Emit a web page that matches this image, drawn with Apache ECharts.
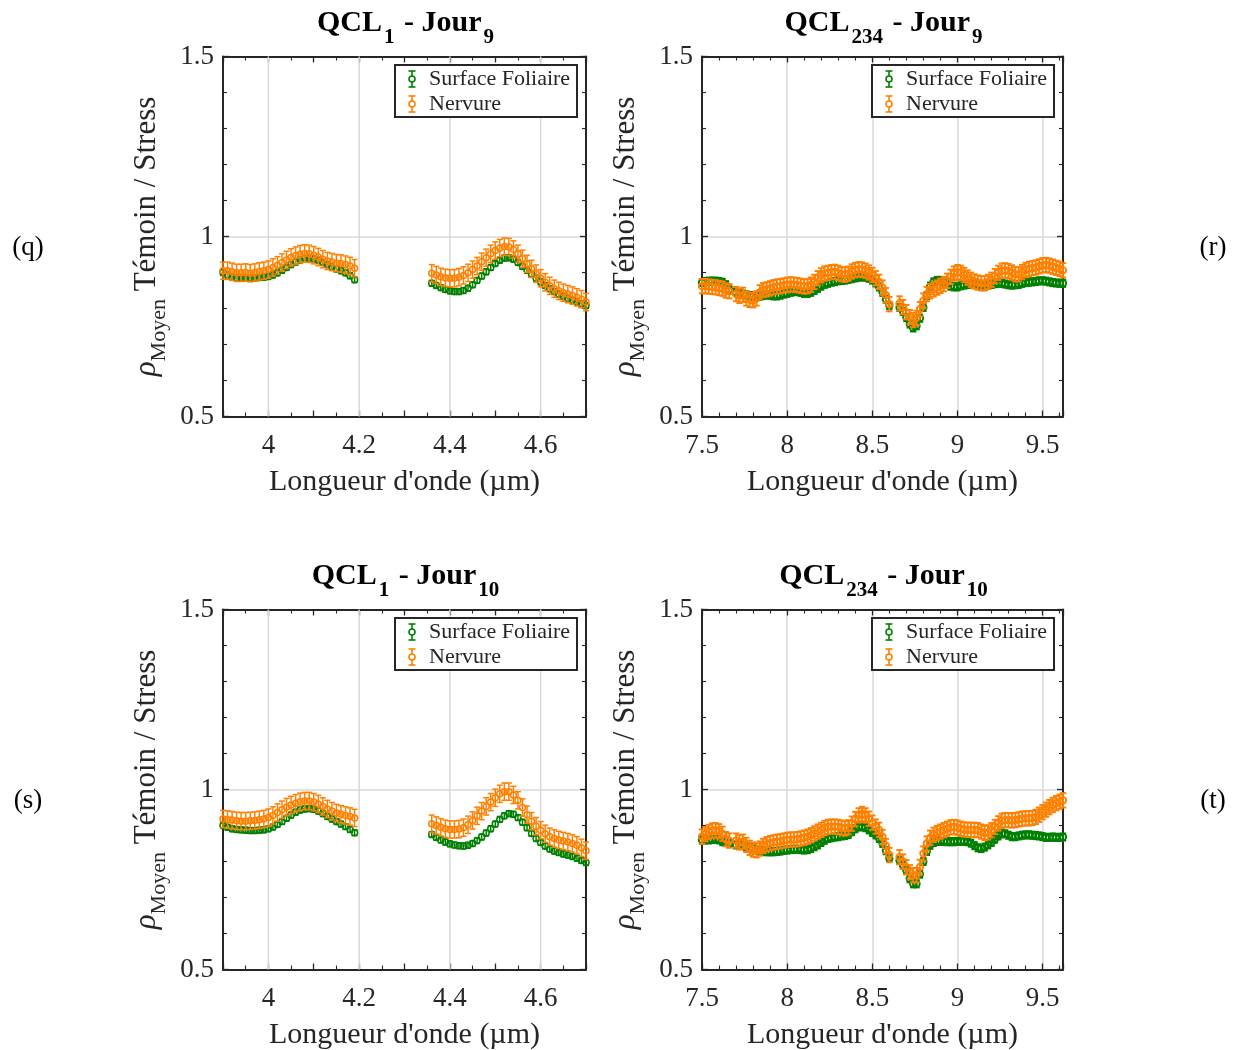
<!DOCTYPE html>
<html>
<head>
<meta charset="utf-8">
<script src="https://cdn.jsdelivr.net/npm/echarts@6/dist/echarts.min.js"></script>
<style>html,body{margin:0;padding:0;background:#fff;}#c{width:1240px;height:1050px;}</style>
</head>
<body>
<div id="c"></div>
<script>
// ---------- DATA ----------
function range(a, b, step) { const out = []; const n = Math.round((b - a) / step); for (let i = 0; i <= n; i++) out.push(+(a + i * step).toFixed(2)); return out; }

// wavelength sampling (µm)
const wlLeft = range(3.90, 4.19, 0.01).concat(range(4.36, 4.70, 0.01));
const wlRight = range(7.50, 7.66, 0.02).concat(range(7.70, 7.74, 0.02), range(7.76, 8.60, 0.02), range(8.66, 9.62, 0.02));

// (q) QCL1 - Jour9
const qSurface = [0.900,0.893,0.887,0.885,0.884,0.884,0.884,0.885,0.886,0.887,0.889,0.893,0.899,0.906,0.914,0.922,0.929,0.935,0.939,0.940,0.938,0.934,0.928,0.922,0.916,0.910,0.905,0.899,0.891,0.880,
  0.870,0.864,0.858,0.853,0.849,0.847,0.847,0.850,0.856,0.866,0.878,0.890,0.902,0.914,0.925,0.934,0.940,0.941,0.937,0.928,0.917,0.906,0.895,0.884,0.874,0.864,0.855,0.847,0.840,0.834,0.828,0.823,0.818,0.813,0.808];
const qNervure = [0.905,0.905,0.902,0.899,0.899,0.900,0.898,0.900,0.903,0.905,0.908,0.914,0.920,0.928,0.935,0.942,0.947,0.951,0.953,0.952,0.948,0.943,0.937,0.932,0.929,0.926,0.925,0.922,0.918,0.912,
  0.898,0.893,0.888,0.885,0.884,0.884,0.887,0.892,0.899,0.908,0.918,0.930,0.941,0.952,0.961,0.968,0.972,0.971,0.964,0.952,0.938,0.924,0.910,0.897,0.884,0.873,0.863,0.855,0.849,0.844,0.840,0.836,0.831,0.826,0.818];

// (s) QCL1 - Jour10
const sSurface = [0.900,0.895,0.891,0.889,0.888,0.887,0.886,0.886,0.887,0.888,0.891,0.896,0.903,0.911,0.920,0.929,0.937,0.943,0.946,0.947,0.945,0.940,0.933,0.925,0.918,0.911,0.904,0.897,0.889,0.880,
  0.875,0.867,0.860,0.854,0.849,0.846,0.844,0.843,0.845,0.850,0.858,0.868,0.879,0.891,0.904,0.917,0.927,0.933,0.931,0.922,0.909,0.894,0.878,0.864,0.853,0.843,0.835,0.829,0.825,0.821,0.818,0.814,0.809,0.803,0.797];
const sNervure = [0.918,0.917,0.915,0.913,0.912,0.912,0.913,0.914,0.916,0.918,0.922,0.928,0.936,0.944,0.951,0.957,0.962,0.966,0.968,0.968,0.965,0.960,0.953,0.946,0.940,0.935,0.931,0.928,0.925,0.921,
  0.905,0.900,0.895,0.891,0.889,0.889,0.890,0.894,0.902,0.914,0.927,0.940,0.953,0.965,0.977,0.988,0.994,0.994,0.985,0.970,0.950,0.930,0.912,0.898,0.887,0.877,0.869,0.864,0.860,0.857,0.854,0.850,0.845,0.838,0.830];

// (r) QCL234 - Jour9
const rSurface = [0.872,0.875,0.876,0.876,0.876,0.875,0.873,0.866,0.852,
  0.845,0.842,0.840,
  0.838,0.836,0.834,0.833,0.834,0.836,0.838,0.837,0.835,0.835,0.837,0.840,0.842,0.845,0.847,0.847,0.845,0.842,0.842,0.845,0.850,0.856,0.862,0.867,0.870,0.873,0.875,0.877,0.878,0.879,0.881,0.883,0.885,0.887,0.888,0.887,0.884,0.879,0.871,0.860,0.845,0.826,0.808,
  0.803,0.792,0.775,0.757,0.746,0.752,0.773,0.803,0.836,0.862,0.874,0.878,0.878,0.875,0.868,0.862,0.860,0.860,0.863,0.865,0.867,0.869,0.870,0.868,0.866,0.865,0.865,0.867,0.869,0.870,0.870,0.868,0.866,0.865,0.866,0.867,0.870,0.872,0.873,0.874,0.875,0.877,0.877,0.876,0.874,0.872,0.871,0.870,0.870];
const rNervure = [0.862,0.862,0.861,0.860,0.859,0.857,0.855,0.850,0.848,
  0.840,0.835,0.838,
  0.828,0.824,0.823,0.828,0.845,0.851,0.853,0.856,0.859,0.861,0.862,0.864,0.866,0.867,0.866,0.865,0.863,0.861,0.862,0.866,0.874,0.884,0.892,0.897,0.899,0.901,0.902,0.899,0.895,0.894,0.897,0.903,0.907,0.909,0.908,0.905,0.900,0.893,0.884,0.874,0.858,0.837,0.812,
  0.814,0.804,0.790,0.776,0.768,0.774,0.798,0.822,0.840,0.848,0.853,0.858,0.863,0.868,0.877,0.888,0.897,0.901,0.899,0.893,0.886,0.880,0.875,0.872,0.870,0.870,0.874,0.880,0.890,0.899,0.905,0.906,0.904,0.900,0.895,0.895,0.901,0.907,0.910,0.912,0.914,0.917,0.920,0.921,0.919,0.916,0.913,0.910,0.906];

// (t) QCL234 - Jour10
const tSurface = [0.860,0.860,0.860,0.861,0.862,0.860,0.855,0.853,0.850,
  0.846,0.846,0.845,
  0.841,0.838,0.835,0.832,0.830,0.828,0.827,0.827,0.827,0.828,0.829,0.831,0.832,0.833,0.834,0.834,0.833,0.832,0.833,0.836,0.841,0.846,0.853,0.859,0.864,0.866,0.868,0.869,0.871,0.872,0.875,0.883,0.891,0.896,0.897,0.894,0.888,0.881,0.874,0.864,0.850,0.830,0.809,
  0.803,0.790,0.775,0.752,0.738,0.738,0.765,0.800,0.828,0.845,0.853,0.856,0.856,0.856,0.855,0.855,0.855,0.856,0.856,0.856,0.855,0.851,0.844,0.838,0.836,0.840,0.846,0.853,0.862,0.871,0.877,0.877,0.873,0.869,0.869,0.871,0.873,0.874,0.874,0.873,0.872,0.871,0.869,0.867,0.867,0.868,0.867,0.867,0.868];
const tNervure = [0.869,0.876,0.882,0.886,0.887,0.884,0.877,0.862,0.858,
  0.858,0.853,0.855,
  0.846,0.838,0.833,0.831,0.836,0.843,0.848,0.851,0.853,0.855,0.856,0.858,0.860,0.861,0.861,0.862,0.864,0.866,0.869,0.873,0.878,0.883,0.888,0.893,0.896,0.897,0.897,0.896,0.894,0.892,0.895,0.905,0.918,0.928,0.932,0.928,0.919,0.908,0.897,0.888,0.868,0.843,0.818,
  0.812,0.800,0.784,0.770,0.762,0.762,0.785,0.822,0.850,0.866,0.874,0.879,0.883,0.887,0.891,0.895,0.896,0.894,0.891,0.889,0.888,0.888,0.888,0.887,0.883,0.879,0.881,0.887,0.896,0.906,0.913,0.915,0.915,0.914,0.915,0.917,0.919,0.920,0.920,0.921,0.924,0.930,0.937,0.944,0.951,0.957,0.962,0.966,0.970];

// error-bar half widths (read as typical bar size)
const errSurfaceLeft = 0.008, errNervureLeft = 0.024;
const errSurfaceRight = 0.010, errNervureRight = 0.020;

// axis ticks
const xTicksLeft = [4, 4.2, 4.4, 4.6];
const seriesNames = ['Surface Foliaire', 'Nervure'];
const colors = ['#008000', '#FF8000'];

// ---------- LAYOUT ----------
const FONT = '"Liberation Serif", "Times New Roman", serif';
const AX = '#262626';
const panels = [
  { tag: '(q)', qcl: '1',   jour: '9',  wl: wlLeft,  surf: qSurface, nerv: qNervure, left: true,  grid: { left: 223, top: 56.5, width: 363, height: 360 } },
  { tag: '(r)', qcl: '234', jour: '9',  wl: wlRight, surf: rSurface, nerv: rNervure, left: false, grid: { left: 702, top: 56.5, width: 361, height: 360 } },
  { tag: '(s)', qcl: '1',   jour: '10', wl: wlLeft,  surf: sSurface, nerv: sNervure, left: true,  grid: { left: 223, top: 609.5, width: 363, height: 360 } },
  { tag: '(t)', qcl: '234', jour: '10', wl: wlRight, surf: tSurface, nerv: tNervure, left: false, grid: { left: 702, top: 609.5, width: 361, height: 360 } }
];

function makeEB(r, lw, w) {
  return function (params, api) {
    const x = api.value(0), y = api.value(1), e = api.value(2);
    const c = api.coord([x, y]), t = api.coord([x, y + e]), b = api.coord([x, y - e]);
    const col = api.visual('color');
    return { type: 'group', children: [
      { type: 'line', shape: { x1: c[0], y1: t[1], x2: c[0], y2: b[1] }, style: { stroke: col, lineWidth: lw } },
      { type: 'line', shape: { x1: c[0] - w, y1: t[1], x2: c[0] + w, y2: t[1] }, style: { stroke: col, lineWidth: lw } },
      { type: 'line', shape: { x1: c[0] - w, y1: b[1], x2: c[0] + w, y2: b[1] }, style: { stroke: col, lineWidth: lw } },
      { type: 'circle', shape: { cx: c[0], cy: c[1], r: r }, style: { stroke: col, fill: 'none', lineWidth: lw } }
    ]};
  };
}
const renderLeft = makeEB(3, 1.5, 3);
const renderRight = makeEB(3.2, 1.9, 3.2);
function renderGridX(params, api) {
  const x = api.value(0);
  const p1 = api.coord([x, 0.5]), p2 = api.coord([x, 1.5]);
  return { type: 'line', shape: { x1: p1[0], y1: p1[1], x2: p2[0], y2: p2[1] }, style: { stroke: '#d8d8d8', lineWidth: 1.5 } };
}

const titles = [], grids = [], xAxes = [], yAxes = [], series = [], graphics = [];
const leftFmt = v => { const k = Math.round(v * 10); return k % 2 === 0 ? String(k / 10) : ''; };

panels.forEach((p, i) => {
  const g = p.grid;
  grids.push(Object.assign({ containLabel: false, outerBoundsMode: 'none' }, g));
  titles.push({
    text: '{m|QCL}{s|' + p.qcl + '}{m| - Jour}{s|' + p.jour + '}',
    left: g.left + g.width / 2 - 3, top: g.top - 53, textAlign: 'center',
    textStyle: { rich: {
      m: { fontFamily: FONT, fontWeight: 'bold', fontSize: 30, color: '#000', verticalAlign: 'top', lineHeight: 34 },
      s: { fontFamily: FONT, fontWeight: 'bold', fontSize: 21, color: '#000', verticalAlign: 'top', lineHeight: 22, padding: [19, 2, 0, 2] }
    } }
  });
  const xBase = p.left
    ? { min: 3.9, max: 4.7, interval: 0.1, minorSplit: 2 }
    : { min: 7.5, max: 9.62, interval: 0.5, minorSplit: 5 };
  const tickCommon = {
    axisLine: { show: true, onZero: false, lineStyle: { color: AX, width: 2 } },
    axisTick: { show: true, inside: true, length: 6, lineStyle: { color: AX, width: 1.3 } },
    minorTick: { show: true, length: 4, lineStyle: { color: AX, width: 1.1 } }
  };
  xAxes.push(Object.assign({}, tickCommon, {
    type: 'value', gridIndex: i, position: 'bottom', min: xBase.min, max: xBase.max, interval: xBase.interval,
    minorTick: Object.assign({}, tickCommon.minorTick, { splitNumber: xBase.minorSplit }),
    axisLabel: { fontFamily: FONT, fontSize: 27, color: AX, margin: 16, showMaxLabel: p.left ? true : false, formatter: p.left ? leftFmt : undefined },
    splitLine: { show: !p.left, lineStyle: { color: '#d8d8d8', width: 1.5 } },
    name: "Longueur d'onde (µm)", nameLocation: 'middle', nameGap: 51,
    nameTextStyle: { fontFamily: FONT, fontSize: 30, color: AX }
  }));
  xAxes.push(Object.assign({}, tickCommon, {
    type: 'value', gridIndex: i, position: 'top', min: xBase.min, max: xBase.max, interval: xBase.interval,
    minorTick: Object.assign({}, tickCommon.minorTick, { splitNumber: xBase.minorSplit }),
    axisLabel: { show: false }, splitLine: { show: false }
  }));
  yAxes.push(Object.assign({}, tickCommon, {
    type: 'value', gridIndex: i, position: 'left', min: 0.5, max: 1.5, interval: 0.5,
    minorTick: Object.assign({}, tickCommon.minorTick, { splitNumber: 5 }),
    axisLabel: { fontFamily: FONT, fontSize: 27, color: AX, margin: 9 },
    splitLine: { show: true, lineStyle: { color: '#d8d8d8', width: 1.5 } },
    name: '{r|ρ}{s|Moyen}{m| Témoin / Stress}', nameLocation: 'middle', nameRotate: 90, nameGap: 58,
    nameTextStyle: { rich: {
      r: { fontFamily: FONT, fontStyle: 'italic', fontSize: 31, color: AX, verticalAlign: 'top', lineHeight: 34 },
      s: { fontFamily: FONT, fontSize: 22, color: AX, verticalAlign: 'top', lineHeight: 24, padding: [17, 0, 0, 0] },
      m: { fontFamily: FONT, fontSize: 31, color: AX, verticalAlign: 'top', lineHeight: 34 }
    } }
  }));
  yAxes.push(Object.assign({}, tickCommon, {
    type: 'value', gridIndex: i, position: 'right', min: 0.5, max: 1.5, interval: 0.5,
    minorTick: Object.assign({}, tickCommon.minorTick, { splitNumber: 5 }),
    axisLabel: { show: false }, splitLine: { show: false }
  }));
  if (p.left) {
    series.push({ type: 'custom', name: 'grid', xAxisIndex: 2 * i, yAxisIndex: 2 * i, z: 1, silent: true,
      renderItem: renderGridX, data: xTicksLeft.map(v => [v]) });
  }
  const eS = p.left ? errSurfaceLeft : errSurfaceRight;
  const eN = p.left ? errNervureLeft : errNervureRight;
  const rend = p.left ? renderLeft : renderRight;
  series.push({ type: 'custom', name: seriesNames[0], xAxisIndex: 2 * i, yAxisIndex: 2 * i, z: 3, silent: true,
    itemStyle: { color: colors[0] }, renderItem: rend, encode: { x: 0, y: 1 },
    data: p.wl.map((x, k) => [x, p.surf[k], eS]) });
  series.push({ type: 'custom', name: seriesNames[1], xAxisIndex: 2 * i, yAxisIndex: 2 * i, z: 4, silent: true,
    itemStyle: { color: colors[1] }, renderItem: rend, encode: { x: 0, y: 1 },
    data: p.wl.map((x, k) => [x, p.nerv[k], eN]) });

  // legend box
  const bx = g.left + g.width - 191, by = g.top + 8.5;
  graphics.push({ type: 'rect', z: 100, shape: { x: bx, y: by, width: 182, height: 52 }, style: { fill: '#fff', stroke: AX, lineWidth: 2 } });
  seriesNames.forEach((nm, j) => {
    const cy = by + 14 + j * 25, cx = bx + 17, col = colors[j];
    graphics.push({ type: 'line', z: 101, shape: { x1: cx, y1: cy - 8, x2: cx, y2: cy + 8 }, style: { stroke: col, lineWidth: 1.6 } });
    graphics.push({ type: 'line', z: 101, shape: { x1: cx - 3.5, y1: cy - 8, x2: cx + 3.5, y2: cy - 8 }, style: { stroke: col, lineWidth: 1.6 } });
    graphics.push({ type: 'line', z: 101, shape: { x1: cx - 3.5, y1: cy + 8, x2: cx + 3.5, y2: cy + 8 }, style: { stroke: col, lineWidth: 1.6 } });
    graphics.push({ type: 'circle', z: 102, shape: { cx: cx, cy: cy, r: 3 }, style: { stroke: col, fill: '#fff', lineWidth: 1.6 } });
    graphics.push({ type: 'text', z: 101, x: bx + 34, y: cy, style: { text: nm, font: '22px ' + FONT, fill: AX, verticalAlign: 'middle', align: 'left' } });
  });
  // panel label
  const lx = (i % 2 === 0) ? 28 : 1213;
  graphics.push({ type: 'text', z: 101, x: lx, y: g.top + 191, style: { text: p.tag, font: '27px ' + FONT, fill: '#000', align: 'center', verticalAlign: 'middle' } });
});

const chart = echarts.init(document.getElementById('c'), null, { renderer: 'canvas' });
chart.setOption({
  backgroundColor: '#fff', animation: false,
  title: titles, grid: grids, xAxis: xAxes, yAxis: yAxes, series: series, graphic: graphics
});
</script>
</body>
</html>
